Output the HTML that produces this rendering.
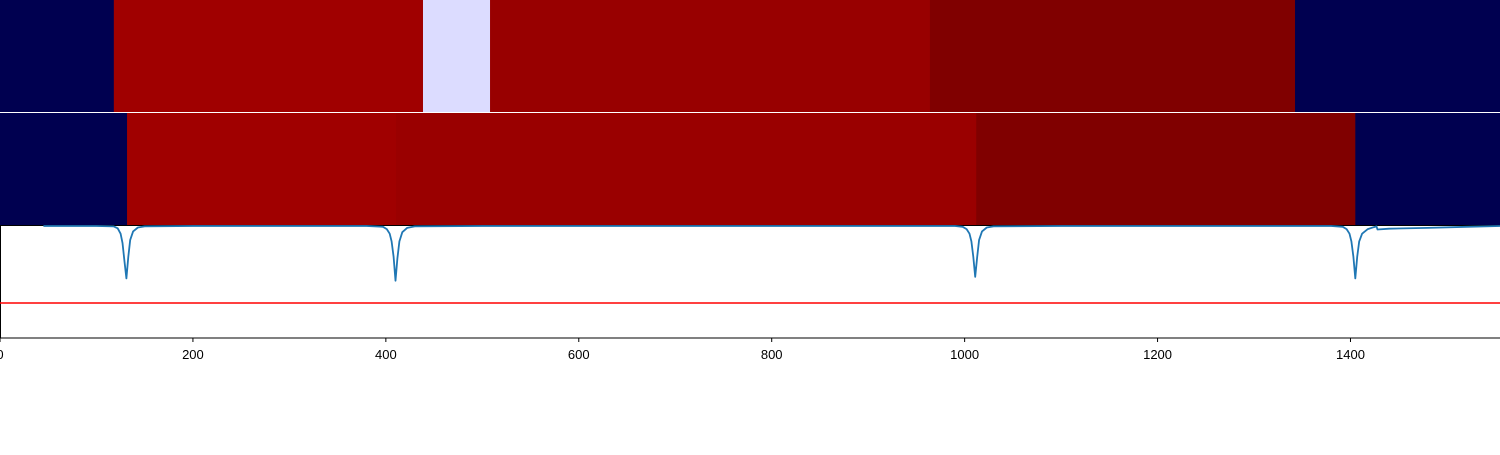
<!DOCTYPE html>
<html><head><meta charset="utf-8"><style>
body{margin:0;background:#fff;width:1500px;height:450px;overflow:hidden;font-family:"Liberation Sans","DejaVu Sans",sans-serif}
</style></head><body>
<svg id="chart" width="1500" height="450" xmlns="http://www.w3.org/2000/svg"></svg>
<script>
const row1Edges=[0,118,438.5,508,964,1342.5,1555];
const row1Colors=["#000050","#a00000","#dcdcff","#980000","#800000","#000050"];
const row2Edges=[0,131.7,410.5,1012,1405,1555];
const row2Colors=["#000050","#a00000","#9a0000","#800000","#000050"];
const lineX=[45,100,118,122,125,127,129,131,133,135,138,143,150,200,380,397,401,404,406,408,410,412,414,417,422,430,500,990,998,1002,1005,1007,1009,1011,1013,1015,1018,1023,1030,1100,1380,1392,1396,1399,1401,1403,1405,1407,1409,1412,1418,1424,1427,1428,1440,1480,1520,1555];
const lineY=[1.0,1.0,0.995,0.97,0.9,0.78,0.55,0.32,0.6,0.82,0.93,0.98,0.995,1.0,1.0,0.99,0.96,0.9,0.8,0.6,0.29,0.58,0.8,0.92,0.975,0.995,1.0,1.0,0.99,0.96,0.9,0.8,0.6,0.34,0.6,0.82,0.93,0.98,0.995,1.0,1.0,0.99,0.96,0.9,0.8,0.6,0.32,0.6,0.8,0.9,0.96,0.985,0.995,0.955,0.965,0.975,0.99,1.0];
const redLevel=0;
const xTicks=[0,200,400,600,800,1000,1200,1400];
const NS="http://www.w3.org/2000/svg";
const svg=document.getElementById('chart');
const xs=v=>v*1500/1555;
const ys=v=>303-v*77;
function el(t,a){const e=document.createElementNS(NS,t);for(const k in a)e.setAttribute(k,a[k]);svg.appendChild(e);return e;}
function row(edges,colors,y0,h,name){
 for(let i=0;i<colors.length;i++){
  const r=el('rect',{x:xs(edges[i]),y:y0,width:xs(edges[i+1])-xs(edges[i])+0.5,height:h,fill:colors[i]});
  
  
 }
}
row(row1Edges,row1Colors,0,112,'top-heatmap');
row(row2Edges,row2Colors,113,112,'middle-heatmap');
const border=el('rect',{x:0.5,y:225.5,width:1500,height:112.5,fill:'none',stroke:'#000','stroke-width':1});


const rl=el('line',{x1:0,x2:1500,y1:ys(redLevel),y2:ys(redLevel),stroke:'#ff0000','stroke-width':1.5});


let d='';lineX.forEach((x,i)=>{d+=(i?'L':'M')+xs(x).toFixed(1)+','+ys(lineY[i]).toFixed(1);});
const p=el('path',{d:d,fill:'none',stroke:'#1f77b4','stroke-width':1.8,'stroke-linejoin':'round'});


const ax=el('line',{x1:0,x2:1500,y1:338,y2:338,stroke:'#000','stroke-width':1});


xTicks.forEach(t=>{
 const tk=el('line',{x1:xs(t),x2:xs(t),y1:338,y2:342,stroke:'#000','stroke-width':1});
 
 
 const tx=el('text',{x:xs(t),y:359,'text-anchor':'middle','font-size':13,fill:'#000'});
 tx.textContent=t;
 
 
});
</script>
</body></html>
